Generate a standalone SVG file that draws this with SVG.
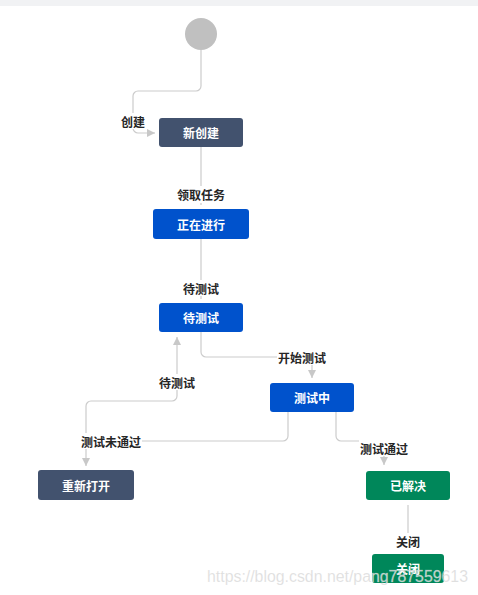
<svg xmlns="http://www.w3.org/2000/svg" width="478" height="595" viewBox="0 0 478 595">
<defs>
<marker id="arr" markerUnits="userSpaceOnUse" viewBox="0 0 8 8" refX="8" refY="4" markerWidth="8" markerHeight="8" orient="auto">
<path d="M0,0 L8,4 L0,8 z" fill="#c8c8c8"/>
</marker>
<style>
.edge{fill:none;stroke:#cccccc;stroke-width:1.2}
.lbg{fill:#ffffff}
.lbl{font-family:"Noto Sans CJK SC","Noto Sans",sans-serif;font-size:12px;fill:#262626;font-weight:600;text-anchor:middle;dominant-baseline:central}
.ntx{font-family:"Noto Sans CJK SC","Noto Sans",sans-serif;font-size:12px;fill:#ffffff;font-weight:700;text-anchor:middle;dominant-baseline:central}
.dark{fill:#42526e}
.blue{fill:#0052cc}
.green{fill:#00875a}
</style>
</defs>
<rect x="0" y="0" width="478" height="595" fill="#ffffff"/>
<rect x="0" y="0" width="478" height="6" fill="#f1f2f4"/>
<g id="connectors">
<path class="edge" d="M201,50 V86 a5,5 0 0 1 -5,5 H138 a5,5 0 0 0 -5,5 V128 a5,5 0 0 0 5,5 H155" marker-end="url(#arr)"/>
<path class="edge" d="M201,147 V205"/>
<path class="edge" d="M201,239 V299"/>
<path class="edge" d="M201,332 V352 a5,5 0 0 0 5,5 H307 a5,5 0 0 1 5,5 V378" marker-end="url(#arr)"/>
<path class="edge" d="M288,412 V436 a5,5 0 0 1 -5,5 H91 a5,5 0 0 0 -5,5 V466" marker-end="url(#arr)"/>
<path class="edge" d="M86,441 V406 a5,5 0 0 1 5,-5 H172 a5,5 0 0 0 5,-5 V337" marker-end="url(#arr)"/>
<path class="edge" d="M336,412 V436 a5,5 0 0 0 5,5 H379 a5,5 0 0 1 5,5 V465" marker-end="url(#arr)"/>
<path class="edge" d="M408,505 V548"/>
<rect class="lbg" x="119" y="113" width="28" height="16"/>
<text class="lbl" x="133" y="121">创建</text>
<rect class="lbg" x="176" y="186" width="50" height="17"/>
<text class="lbl" x="201" y="194">领取任务</text>
<rect class="lbg" x="182" y="280" width="38" height="16"/>
<text class="lbl" x="201" y="288">待测试</text>
<rect class="lbg" x="277" y="349" width="50" height="16"/>
<text class="lbl" x="302" y="357">开始测试</text>
<rect class="lbg" x="158" y="374" width="38" height="16"/>
<text class="lbl" x="177" y="382">待测试</text>
<rect class="lbg" x="81" y="433" width="61" height="16"/>
<text class="lbl" x="111" y="441">测试未通过</text>
<rect class="lbg" x="359" y="440" width="50" height="16"/>
<text class="lbl" x="384" y="448">测试通过</text>
<rect class="lbg" x="394" y="533" width="28" height="16"/>
<text class="lbl" x="408" y="541">关闭</text>
</g>
<g id="start"><circle cx="201" cy="34" r="16" fill="#c0c0c0"/></g>
<g id="n-new"><rect class="dark" x="159" y="118" width="84" height="29" rx="3"/><text class="ntx" x="201" y="132.5">新创建</text></g>
<g id="n-inprogress"><rect class="blue" x="153" y="209" width="96" height="30" rx="3"/><text class="ntx" x="201" y="224">正在进行</text></g>
<g id="n-totest"><rect class="blue" x="159" y="303" width="84" height="29" rx="3"/><text class="ntx" x="201" y="317.5">待测试</text></g>
<g id="n-testing"><rect class="blue" x="270" y="383" width="84" height="29" rx="3"/><text class="ntx" x="312" y="397.5">测试中</text></g>
<g id="n-reopen"><rect class="dark" x="38" y="470" width="96" height="30" rx="3"/><text class="ntx" x="86" y="485">重新打开</text></g>
<g id="n-resolved"><rect class="green" x="366" y="471" width="84" height="29" rx="3"/><text class="ntx" x="408" y="485.5">已解决</text></g>
<g id="n-closed"><rect class="green" x="372" y="554" width="72" height="29" rx="3"/><text class="ntx" x="408" y="568.5">关闭</text></g>
<text x="207" y="582" font-family="'Liberation Sans',Arial,sans-serif" font-size="16" textLength="261" lengthAdjust="spacingAndGlyphs" fill="#d6d6d6" fill-opacity="0.85" stroke="#ffffff" stroke-opacity="0.35" stroke-width="0.6">https://blog.csdn.net/pang787559613</text>
</svg>
